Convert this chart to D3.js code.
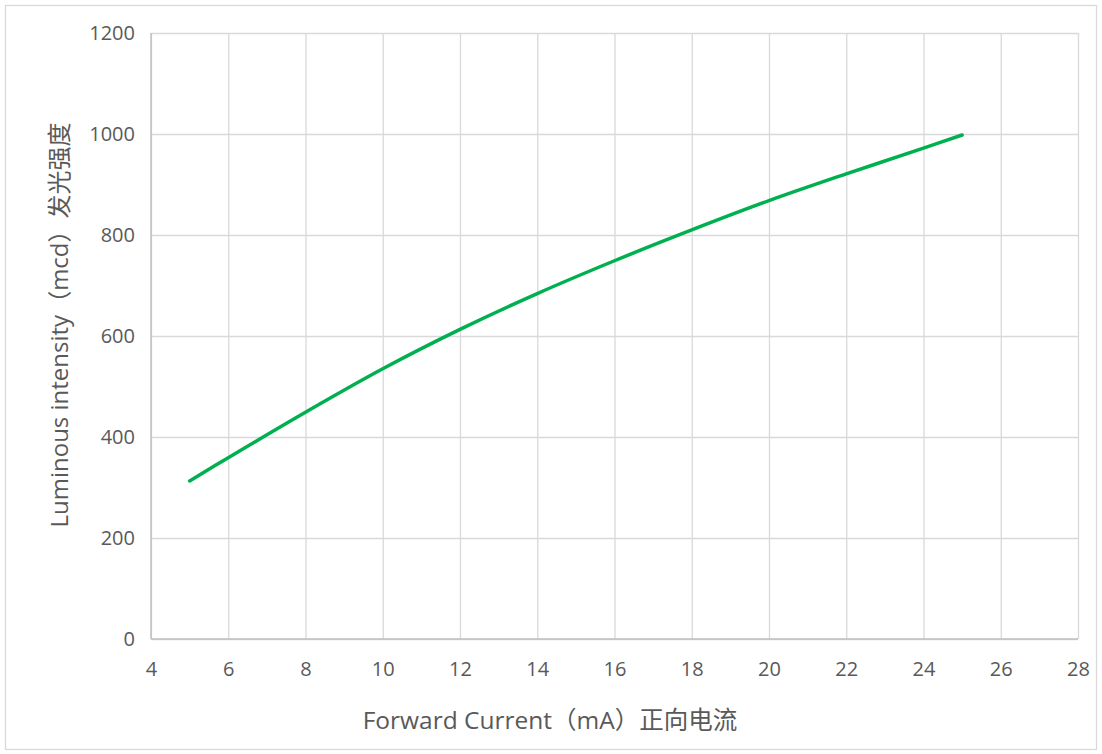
<!DOCTYPE html>
<html>
<head>
<meta charset="utf-8">
<script src="https://cdn.jsdelivr.net/npm/d3@7"></script>
<style>
  html, body { margin: 0; padding: 0; background: #fff; }
  svg { display: block; }
  text { font-family: "Open Sans", "Noto Sans CJK SC", sans-serif; fill: #595959; }
</style>
</head>
<body>
<svg id="chart" width="1102" height="754"></svg>
<script>
// Data
const current = [5, 6, 8, 10, 12, 14, 16, 18, 20, 22, 24, 25];          // Forward Current (mA)
const intensity = [313, 359, 449, 535, 613, 684, 749, 810, 868, 921, 972, 998]; // Luminous intensity (mcd)
const xTicks = [4, 6, 8, 10, 12, 14, 16, 18, 20, 22, 24, 26, 28];
const yTicks = [0, 200, 400, 600, 800, 1000, 1200];
const xTitle = "Forward Current（mA）正向电流";
const yTitle = "Luminous intensity（mcd）发光强度";

const svg = d3.select("#chart");
const W = 1102, H = 754;
const plot = { left: 151, right: 1078, top: 33, bottom: 639 };

// chart border
svg.append("rect")
  .attr("x", 5.5).attr("y", 5.5)
  .attr("width", W - 11).attr("height", H - 10)
  .attr("fill", "#fff").attr("stroke", "#d9d9d9").attr("stroke-width", 1.3);

const x = d3.scaleLinear().domain([4, 28]).range([plot.left, plot.right]);
const y = d3.scaleLinear().domain([0, 1200]).range([plot.bottom, plot.top]);

// gridlines
const gx = svg.append("g")
  .attr("transform", `translate(0,${plot.bottom})`)
  .call(d3.axisBottom(x).tickValues(xTicks).tickSize(-(plot.bottom - plot.top)).tickFormat(""));
gx.select(".domain").remove();
gx.selectAll("line").attr("stroke", "#d9d9d9").attr("stroke-width", 1.3);

const gy = svg.append("g")
  .attr("transform", `translate(${plot.left},0)`)
  .call(d3.axisLeft(y).tickValues(yTicks).tickSize(-(plot.right - plot.left)).tickFormat(""));
gy.select(".domain").remove();
gy.selectAll("line").attr("stroke", "#d9d9d9").attr("stroke-width", 1.3);

// axis lines
svg.append("line").attr("x1", plot.left).attr("x2", plot.left)
  .attr("y1", plot.top).attr("y2", plot.bottom)
  .attr("stroke", "#bfbfbf").attr("stroke-width", 1.5);
svg.append("line").attr("x1", plot.left).attr("x2", plot.right)
  .attr("y1", plot.bottom).attr("y2", plot.bottom)
  .attr("stroke", "#bfbfbf").attr("stroke-width", 1.5);

// tick labels via axes
const ax = svg.append("g")
  .attr("transform", `translate(0,${plot.bottom})`)
  .call(d3.axisBottom(x).tickValues(xTicks).tickSize(0).tickPadding(23).tickFormat(d3.format("d")));
ax.select(".domain").remove();
ax.selectAll("text").style("font-size", "20px").attr("fill", "#595959");

const ay = svg.append("g")
  .attr("transform", `translate(${plot.left},0)`)
  .call(d3.axisLeft(y).tickValues(yTicks).tickSize(0).tickPadding(16).tickFormat(d3.format("d")));
ay.select(".domain").remove();
ay.selectAll("text").style("font-size", "20px").attr("fill", "#595959");

// line
const line = d3.line()
  .x((d, i) => x(current[i]))
  .y((d, i) => y(intensity[i]))
  .curve(d3.curveCatmullRom.alpha(0.5));

svg.append("path")
  .datum(intensity)
  .attr("d", line)
  .attr("fill", "none")
  .attr("stroke", "#00b050")
  .attr("stroke-width", 3.5)
  .attr("stroke-linecap", "round")
  .attr("stroke-linejoin", "round");

// axis titles
svg.append("text")
  .attr("x", 550).attr("y", 729)
  .attr("text-anchor", "middle")
  .style("font-size", "24.5px")
  .text(xTitle);

svg.append("text")
  .attr("transform", "translate(68,325) rotate(-90)")
  .attr("text-anchor", "middle")
  .style("font-size", "24px")
  .text(yTitle);
</script>
</body>
</html>
